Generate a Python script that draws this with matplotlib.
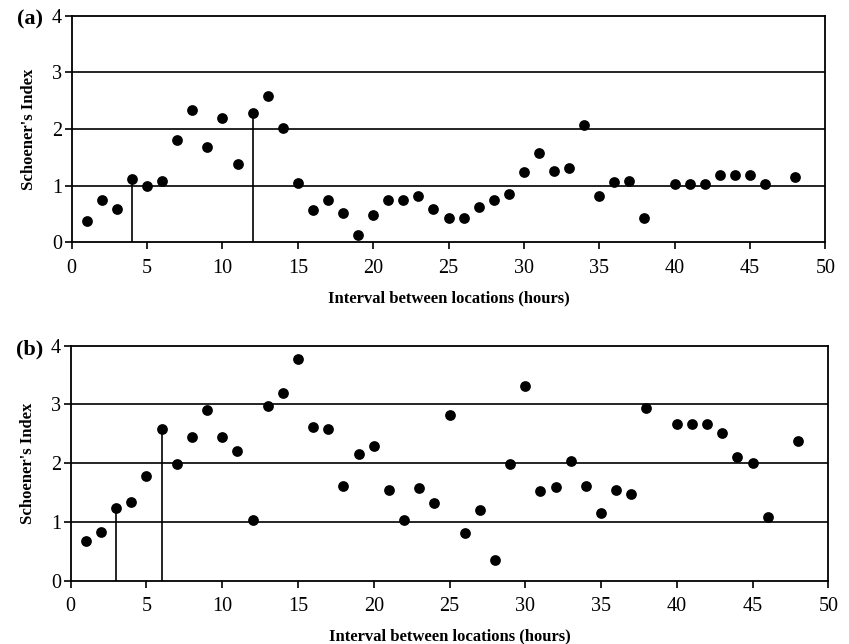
import matplotlib
matplotlib.use("Agg")
import matplotlib.pyplot as plt
import numpy as np

plt.rcParams['font.family'] = ['Liberation Serif', 'DejaVu Serif']

# Panel (a) data
hours_a = [1, 2, 3, 4, 5, 6, 7, 8, 9, 10, 11, 12, 13, 14, 15, 16, 17, 18, 19, 20,
           21, 22, 23, 24, 25, 26, 27, 28, 29, 30, 31, 32, 33, 34, 35, 36, 37, 38,
           40, 41, 42, 43, 44, 45, 46, 48]
index_a = [0.38, 0.74, 0.59, 1.12, 1.00, 1.09, 1.81, 2.34, 1.69, 2.19, 1.38, 2.28,
           2.59, 2.02, 1.05, 0.57, 0.74, 0.51, 0.12, 0.48, 0.74, 0.74, 0.81, 0.59,
           0.43, 0.43, 0.62, 0.74, 0.86, 1.24, 1.57, 1.26, 1.31, 2.07, 0.81, 1.07,
           1.09, 0.43, 1.02, 1.02, 1.02, 1.19, 1.19, 1.19, 1.02, 1.15]
stems_a = [4, 12]

# Panel (b) data
hours_b = [1, 2, 3, 4, 5, 6, 7, 8, 9, 10, 11, 12, 13, 14, 15, 16, 17, 18, 19, 20,
           21, 22, 23, 24, 25, 26, 27, 28, 29, 30, 31, 32, 33, 34, 35, 36, 37, 38,
           40, 41, 42, 43, 44, 45, 46, 48]
index_b = [0.67, 0.83, 1.24, 1.34, 1.78, 2.59, 1.99, 2.45, 2.91, 2.45, 2.20, 1.04,
           2.97, 3.19, 3.77, 2.61, 2.59, 1.62, 2.15, 2.29, 1.55, 1.04, 1.57, 1.32,
           2.82, 0.81, 1.20, 0.35, 1.99, 3.31, 1.52, 1.60, 2.03, 1.62, 1.15, 1.55,
           1.48, 2.94, 2.66, 2.66, 2.66, 2.52, 2.10, 2.01, 1.09, 2.38]
stems_b = [3, 6]

x_ticks = [0, 5, 10, 15, 20, 25, 30, 35, 40, 45, 50]
y_ticks = [0, 1, 2, 3, 4]
xlabel = "Interval between locations (hours)"
ylabel = "Schoener's Index"

fig = plt.figure(figsize=(8.49, 6.44), dpi=100)
ax_a = fig.add_axes([0.0845, 0.6238, 0.8876, 0.3519])
ax_b = fig.add_axes([0.0833, 0.0983, 0.8923, 0.3649])

for ax, hx, hy, stems, tag in [(ax_a, hours_a, index_a, stems_a, "(a)"),
                               (ax_b, hours_b, index_b, stems_b, "(b)")]:
    ax.set_xlim(0, 50)
    ax.set_ylim(0, 4)
    for yv in [1, 2, 3]:
        ax.axhline(yv, color='black', lw=1.2, zorder=1)
    for s in stems:
        v = hy[hx.index(s)]
        ax.vlines(s, 0, v, color='black', lw=1.2, zorder=2)
    ax.scatter(hx, hy, s=60, color='black', zorder=3, linewidths=0)
    ax.set_xticks(x_ticks)
    ax.set_yticks(y_ticks)
    ax.tick_params(direction='out', length=5, width=1.2, labelsize=14.5,
                   colors='black', pad=2)
    ax.tick_params(axis='x', pad=7)
    for sp in ax.spines.values():
        sp.set_linewidth(1.3)
    ax.set_xlabel(xlabel, fontsize=12, fontweight='bold', labelpad=9)
    ax.set_ylabel(ylabel, fontsize=12, fontweight='bold', labelpad=11)
    ax.text(-0.072, 0.985, tag, transform=ax.transAxes, fontsize=16,
            fontweight='bold', ha='left', va='center')

fig.savefig("out.png", dpi=100)
